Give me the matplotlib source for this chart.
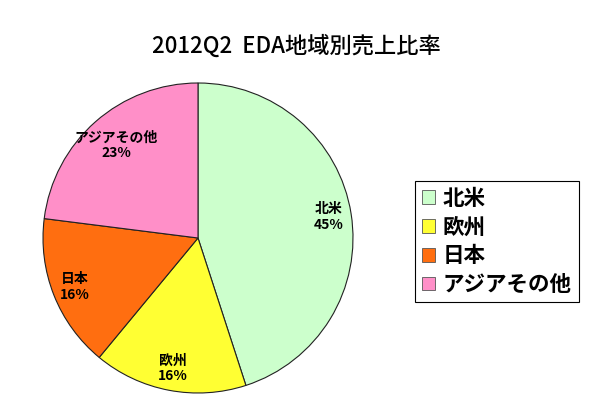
import matplotlib
matplotlib.use("Agg")
import matplotlib.pyplot as plt

plt.rcParams['font.family'] = ['Noto Sans CJK JP', 'DejaVu Sans']

title = "2012Q2  EDA地域別売上比率"
categories = ["北米", "欧州", "日本", "アジアその他"]
values = [45, 16, 16, 23]
colors = ["#CCFFCC", "#FFFF33", "#FF6E10", "#FF8FC8"]

W, H = 600, 412
fig = plt.figure(figsize=(W / 100, H / 100), dpi=100)
cx, cy, r = 198, 238, 155
lim = 1.01
half = r * lim
ax = fig.add_axes([(cx - half) / W, (H - cy - half) / H, 2 * half / W, 2 * half / H])

labels = [f"{c}\n{v}%" for c, v in zip(categories, values)]
wedges, texts = ax.pie(values, colors=colors, startangle=90, counterclock=False,
                       labels=labels, labeldistance=0.855,
                       wedgeprops=dict(edgecolor="#222222", linewidth=0.8),
                       textprops=dict(fontsize=10, fontweight='bold', ha='center',
                                      va='center', linespacing=1.15))
for t in texts:
    t.set_ha('center')
# Asia label sits a little closer to the centre in the reference
x, y = texts[3].get_position()
texts[3].set_position((x * 0.93, y * 0.93))
ax.set_xlim(-lim, lim)
ax.set_ylim(-lim, lim)
ax.set_aspect('equal')
ax.axis('off')

fig.text(296 / W, 1 - 46 / H, title, ha='center', va='center', fontsize=16,
         fontweight='medium')

leg = fig.legend(wedges, categories, loc='upper left',
                 bbox_to_anchor=(415 / W, 1 - 181 / H), bbox_transform=fig.transFigure,
                 frameon=True, fancybox=False, edgecolor='black', framealpha=1,
                 prop=dict(size=15.5, weight='bold'), handlelength=0.6, handleheight=0.6,
                 handletextpad=0.38, labelspacing=0.36, borderpad=0.32, borderaxespad=0)
leg.get_frame().set_linewidth(0.8)
for h in leg.legend_handles:
    h.set_edgecolor('#555555')
    h.set_linewidth(0.6)

fig.savefig("out.png", dpi=100, facecolor='white')
